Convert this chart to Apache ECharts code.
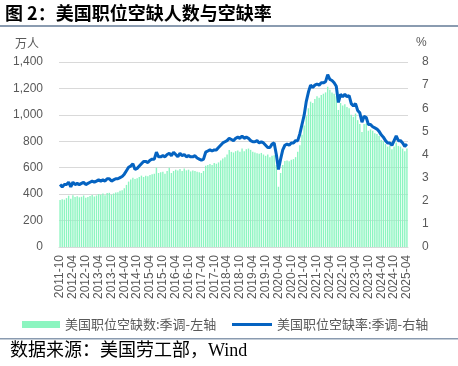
<!DOCTYPE html>
<html><head><meta charset="utf-8">
<script src="https://cdn.jsdelivr.net/npm/echarts@6/dist/echarts.min.js"></script>
<style>html,body{margin:0;padding:0;background:#fff}#c{width:458px;height:366px}</style>
</head><body><div id="c"></div>
<script>
// ---- data ----
var startYear = 2011, startMonth = 10;
var openings2011 = [356, 362, 358];
var openings2012 = [370, 388, 365, 392, 378, 384, 376, 380, 390, 372, 378, 386];
var openings2013 = [394, 382, 390, 400, 396, 404, 392, 408, 410, 396, 405, 412];
var openings2014 = [415, 425, 430, 445, 470, 495, 510, 525, 515, 520, 530, 540];
var openings2015 = [530, 540, 535, 545, 550, 555, 600, 560, 565, 570, 555, 575];
var openings2016 = [600, 560, 575, 585, 578, 590, 575, 595, 580, 585, 572, 578];
var openings2017 = [575, 570, 565, 560, 575, 615, 620, 628, 620, 635, 630, 640];
var openings2018 = [655, 670, 680, 700, 734, 720, 715, 725, 730, 720, 745, 725];
var openings2019 = [740, 745, 735, 720, 715, 710, 705, 712, 700, 690, 700, 680];
var openings2020 = [690, 695, 620, 456, 560, 620, 650, 655, 648, 660, 665, 680];
var openings2021 = [720, 770, 850, 920, 990, 1050, 1100, 1090, 1120, 1140, 1130, 1150];
var openings2022 = [1160, 1170, 1213, 1190, 1170, 1160, 1140, 1037, 1090, 1070, 1080, 1060];
var openings2023 = [1050, 1000, 985, 1010, 960, 930, 870, 930, 935, 880, 890, 880];
var openings2024 = [860, 855, 840, 810, 800, 780, 760, 770, 740, 760, 790, 765];
var openings2025 = [760, 745, 725, 745];

var rate2011 = [2.7, 2.6, 2.7];
var rate2012 = [2.7, 2.8, 2.6, 2.8, 2.7, 2.75, 2.7, 2.75, 2.8, 2.7, 2.75, 2.8];
var rate2013 = [2.85, 2.8, 2.85, 2.9, 2.85, 2.9, 2.85, 2.95, 2.95, 2.85, 2.9, 2.95];
var rate2014 = [2.95, 3.0, 3.05, 3.15, 3.3, 3.45, 3.5, 3.6, 3.35, 3.4, 3.5, 3.6];
var rate2015 = [3.7, 3.7, 3.65, 3.75, 3.8, 3.8, 4.1, 3.9, 3.9, 3.95, 3.9, 4.0];
var rate2016 = [4.05, 3.95, 4.1, 4.0, 3.9, 4.05, 3.95, 4.0, 3.9, 3.95, 3.9, 3.9];
var rate2017 = [3.95, 3.85, 3.8, 3.75, 3.8, 4.1, 4.15, 4.2, 4.15, 4.2, 4.2, 4.3];
var rate2018 = [4.4, 4.5, 4.55, 4.6, 4.7, 4.65, 4.6, 4.7, 4.75, 4.7, 4.8, 4.7];
var rate2019 = [4.75, 4.7, 4.6, 4.55, 4.55, 4.6, 4.5, 4.55, 4.5, 4.4, 4.3, 4.3];
var rate2020 = [4.45, 4.5, 4.0, 3.35, 3.8, 4.2, 4.4, 4.45, 4.4, 4.5, 4.5, 4.6];
var rate2021 = [4.6, 4.9, 5.3, 5.7, 6.3, 6.7, 7.0, 6.9, 7.0, 7.05, 7.0, 7.1];
var rate2022 = [7.1, 7.15, 7.45, 7.25, 7.2, 7.1, 6.95, 6.25, 6.6, 6.5, 6.6, 6.5];
var rate2023 = [6.55, 6.2, 6.1, 6.2, 5.9, 5.8, 5.4, 5.65, 5.6, 5.3, 5.3, 5.2];
var rate2024 = [5.15, 5.1, 5.0, 4.85, 4.75, 4.6, 4.5, 4.5, 4.4, 4.6, 4.8, 4.6];
var rate2025 = [4.6, 4.5, 4.35, 4.45];

var leftTicks = [0, 200, 400, 600, 800, 1000, 1200, 1400];
var rightTicks = [0, 1, 2, 3, 4, 5, 6, 7, 8];

var titleText = '图 2：美国职位空缺人数与空缺率';
var sourceText = '数据来源：美国劳工部，Wind';
var barName = '美国职位空缺数:季调-左轴';
var lineName = '美国职位空缺率:季调-右轴';

// ---- build ----
var openings = [].concat(openings2011, openings2012, openings2013, openings2014, openings2015,
  openings2016, openings2017, openings2018, openings2019, openings2020, openings2021,
  openings2022, openings2023, openings2024, openings2025);
var rates = [].concat(rate2011, rate2012, rate2013, rate2014, rate2015, rate2016, rate2017,
  rate2018, rate2019, rate2020, rate2021, rate2022, rate2023, rate2024, rate2025);
var categories = [];
(function () {
  var y = startYear, m = startMonth;
  for (var i = 0; i < openings.length; i++) {
    categories.push(y + '-' + (m < 10 ? '0' + m : '' + m));
    m++; if (m > 12) { m = 1; y++; }
  }
})();

var grey = '#595959';
var legendText = { color: grey, fontSize: 13, fontFamily: 'Noto Sans CJK SC' };
var chart = echarts.init(document.getElementById('c'), null, { renderer: 'canvas' });
chart.setOption({
  animation: false,
  backgroundColor: '#fff',
  grid: { left: 59, right: 50, top: 62, bottom: 119, containLabel: false },
  graphic: [
    { type: 'text', left: 5, top: 4, style: { text: titleText, font: 'bold 18px "Noto Sans CJK SC"', fill: '#000' } },
    { type: 'rect', left: 0, top: 25, shape: { width: 458, height: 2 }, style: { fill: '#8a9bb0' } },
    { type: 'text', left: 15, top: 37, style: { text: '万人', font: '12px "Noto Sans CJK SC"', fill: grey } },
    { type: 'text', left: 416, top: 37, style: { text: '%', font: '12px "Liberation Sans"', fill: grey } },
    { type: 'rect', left: 0, top: 338, shape: { width: 458, height: 1.5 }, style: { fill: '#8a9bb0' } },
    { type: 'text', left: 10, top: 342, style: { text: sourceText, font: '18px "Liberation Serif", "Noto Sans CJK SC"', fill: '#000' } }
  ],
  legend: [
    { left: 17, top: 313, itemWidth: 38, itemHeight: 7, itemGap: 0,
      textStyle: legendText, data: [{ name: barName, icon: 'rect' }] },
    { left: 227, top: 313, itemWidth: 40, itemHeight: 3, itemGap: 0,
      textStyle: legendText, data: [{ name: lineName, icon: 'rect' }] }
  ],
  xAxis: {
    type: 'category', data: categories, boundaryGap: true,
    axisLine: { lineStyle: { color: '#d9d9d9' } },
    axisTick: { interval: 5, alignWithLabel: true, length: 4, lineStyle: { color: '#bfbfbf' } },
    axisLabel: { interval: 5, rotate: 90, color: grey, fontSize: 12, fontFamily: 'Liberation Sans', margin: 8 }
  },
  yAxis: [
    { type: 'value', min: 0, max: 1400, interval: 200, position: 'left',
      axisLine: { show: false }, axisTick: { show: false },
      splitLine: { lineStyle: { color: '#d9d9d9' } },
      axisLabel: { color: grey, fontSize: 12, fontFamily: 'Liberation Sans', margin: 16,
        formatter: function (v) { return leftTicks.indexOf(v) >= 0 ? v.toLocaleString('en-US') : ''; } } },
    { type: 'value', min: 0, max: 8, interval: 1, position: 'right',
      axisLine: { show: false }, axisTick: { show: false }, splitLine: { show: false },
      axisLabel: { color: grey, fontSize: 12, fontFamily: 'Liberation Sans', margin: 14,
        formatter: function (v) { return rightTicks.indexOf(v) >= 0 ? String(v) : ''; } } }
  ],
  series: [
    { name: barName, type: 'bar', yAxisIndex: 0, data: openings, barCategoryGap: '35%',
      itemStyle: { color: '#8cf5c0' } },
    { name: lineName, type: 'line', yAxisIndex: 1, data: rates, symbol: 'none', smooth: false,
      lineStyle: { color: '#0563c1', width: 3 }, itemStyle: { color: '#0563c1' } }
  ]
});
</script></body></html>
